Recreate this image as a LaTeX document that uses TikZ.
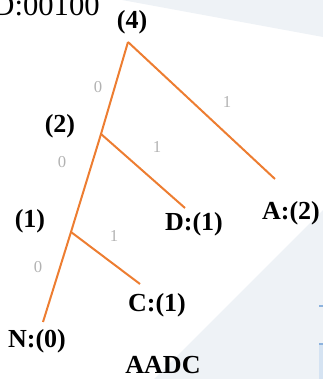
\documentclass[tikz,border=0pt]{standalone}
\usepackage{fontspec}
\setmainfont{Liberation Serif}
\definecolor{edgeor}{HTML}{ED7D31}
\definecolor{bgpale}{HTML}{EEF2F6}
\definecolor{bluefrag}{HTML}{8DB3DE}
\definecolor{bluefill}{HTML}{D5E3F2}
\begin{document}
\begin{tikzpicture}[x=0.75pt,y=-0.75pt,
  branch/.style={draw=edgeor,line width=1.5pt},
  lbl/.style={font=\fontsize{19.5}{21}\selectfont\bfseries,inner sep=0pt},
  bit/.style={font=\fontsize{12.5}{13}\selectfont,text=gray!60,inner sep=0pt}]
\useasboundingbox (0,0) rectangle (323,379);
% slide background
\fill[bgpale] (122,0) -- (323,0) -- (323,37) -- cycle;
\fill[bgpale] (154,379) -- (323,210) -- (323,379) -- cycle;
\fill[bluefill] (319,344) rectangle (323,379);
\draw[bluefrag,line width=1pt] (319,344) -- (323,344);
\draw[bluefrag,line width=1pt] (319,306) -- (323,306);
% tree points
\coordinate (r) at (128,42);
\coordinate (b2) at (101,134);
\coordinate (b1) at (71,232);
\coordinate (nN) at (43,322);
\coordinate (eA) at (275,179);
\coordinate (eD) at (185,208);
\coordinate (eC) at (140,284);
\draw[branch] (r) -- (b2) -- (b1) -- (nN);
\draw[branch] (r) -- (eA);
\draw[branch] (b2) -- (eD);
\draw[branch] (b1) -- (eC);
% texts
\node[font=\fontsize{23}{25}\selectfont,inner sep=0pt,anchor=base east] (code) at (100,15) {D:00100};
\node[lbl] (l4) at (132,22) {(4)};
\node[lbl] (l2) at (60,126) {(2)};
\node[lbl] (l1) at (30,221) {(1)};
\node[lbl] (lA) at (291,213) {A:(2)};
\node[lbl] (lD) at (194,224) {D:(1)};
\node[lbl] (lC) at (157,305) {C:(1)};
\node[lbl] (lN) at (37,341) {N:(0)};
\node[lbl] (lw) at (163,365) {AADC};
% bit labels
\node[bit] (z1) at (98,87) {0};
\node[bit] (z2) at (62,162) {0};
\node[bit] (z3) at (38,267) {0};
\node[bit] (o1) at (227,102) {1};
\node[bit] (o2) at (157,147) {1};
\node[bit] (o3) at (114,236) {1};
\end{tikzpicture}
\end{document}
